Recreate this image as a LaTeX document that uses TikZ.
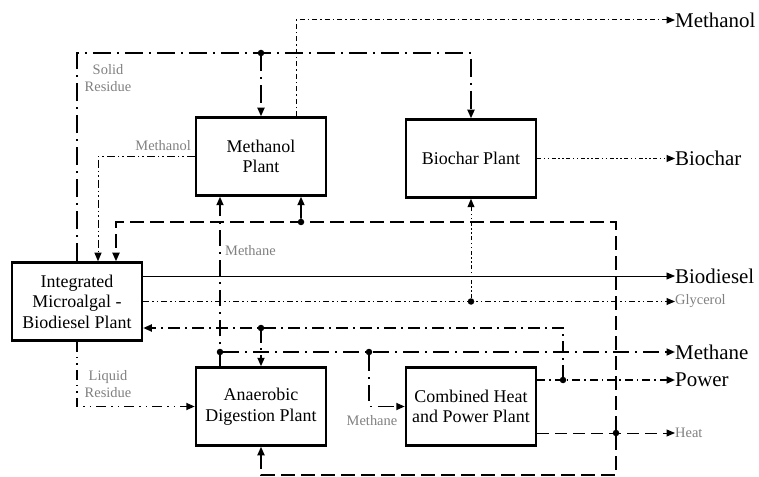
\documentclass[tikz,border=0pt]{standalone}
\usepackage{fontspec}
\setmainfont{Liberation Serif}
\usetikzlibrary{arrows.meta,positioning}

\begin{document}
\begin{tikzpicture}[
    x=1bp, y=-1bp,
    boxNode/.style={rectangle, draw, line width=2.5bp, minimum width=130bp, minimum height=78bp,
      align=center, inner sep=2bp, font=\fontsize{18}{20.5}\selectfont},
    outNode/.style={anchor=west, inner sep=0pt, xshift=8bp, font=\fontsize{21}{24}\selectfont},
    lblNode/.style={inner sep=0pt, align=center, text=gray, font=\fontsize{14.5}{17}\selectfont},
    smallOut/.style={anchor=west, inner sep=0pt, xshift=8bp, text=gray, font=\fontsize{14.5}{17}\selectfont},
    dotNode/.style={circle, fill, inner sep=0pt, minimum size=6.5bp},
    arrow/.style={->, >={Triangle[length=8.5bp, width=7bp]}},
    thinLine/.style={line width=1bp},
    thickLine/.style={line width=1.7bp},
    residueLine/.style={thickLine, dash pattern=on 18bp off 6bp on 2bp off 6bp},
    methOut/.style={thinLine, dash pattern=on 5bp off 3bp on 1.5bp off 3bp},
    recycleLine/.style={thinLine, dash pattern=on 8bp off 3bp on 1.5bp off 3bp on 1.5bp off 3bp},
    heatDist/.style={thickLine, dash pattern=on 14bp off 6bp},
    heatOut/.style={thinLine, dash pattern=on 12bp off 6bp},
    glyLine/.style={thinLine, dash pattern=on 6bp off 3bp on 1.5bp off 3bp on 1.5bp off 3bp},
    charLine/.style={thinLine, dash pattern=on 4bp off 2.5bp on 1.5bp off 2.5bp on 1.5bp off 2.5bp},
    powerLine/.style={thickLine, dash pattern=on 8bp off 4bp on 1.5bp off 4bp},
    powRec/.style={thickLine, dash pattern=on 12bp off 5bp on 2bp off 5bp},
    methaneLine/.style={thickLine, dash pattern=on 16bp off 6bp on 2bp off 6bp},
    liquidLine/.style={thickLine, dash pattern=on 10bp off 5bp on 1.5bp off 5bp on 1.5bp off 5bp}
  ]
  \useasboundingbox (0,0) rectangle (759,477);

  % Plants
  \node[boxNode] (imb) at (77,301.5) {Integrated\\Microalgal -\\Biodiesel Plant};
  \node[boxNode] (mp) at (261,156.5) {Methanol\\Plant};
  \node[boxNode] (bp) at (471,158.5) {Biochar Plant};
  \node[boxNode] (ad) at (261,406.5) {Anaerobic\\Digestion Plant};
  \node[boxNode] (chp) at (471,406.5) {Combined Heat\\and Power Plant};

  % Products
  \node[outNode] (oMeth) at (667,20) {Methanol};
  \node[outNode] (oChar) at (667,158.5) {Biochar};
  \node[outNode] (oDiesel) at (667,276) {Biodiesel};
  \node[smallOut] (oGly) at (667,301.5) {Glycerol};
  \node[outNode] (oMethane) at (667,352) {Methane};
  \node[outNode] (oPower) at (667,380) {Power};
  \node[smallOut] (oHeat) at (667,433) {Heat};

  % Junctions
  \coordinate (cMeth) at (296,20);
  \coordinate (jSolid) at (261,53);
  \coordinate (cTop) at (616,222);
  \coordinate (cBot) at (616,475);
  \coordinate (cPow) at (563,328);
  \node[dotNode] (jHeat) at (616,433) {};
  \node[dotNode] (jMp) at (301,222) {};
  \node[dotNode] (jGly) at (471,301.5) {};
  \node[dotNode] (jPow) at (563,380) {};
  \node[dotNode] (jAd) at (261,328) {};
  \node[dotNode] (jMethane) at (220,352) {};
  \node[dotNode] (jChp) at (369,352) {};
  \node[dotNode] at (jSolid) {};

  % Arrows
  \draw[arrow, methOut] (mp.north -| cMeth) |- (oMeth.west);
  \draw[arrow, residueLine] (imb.north) |- (jSolid) -| (bp.north);
  \draw[arrow, residueLine] (jSolid) -- (mp.north);
  \draw[arrow, recycleLine] (mp.west) -| ([xshift=21bp]imb.north);
  \draw[arrow, heatOut] (chp.east |- jHeat) -- (oHeat.west);
  \draw[arrow, heatDist] (jHeat) -- (cBot) -| (ad.south);
  \draw[arrow, heatDist] (jHeat) -- (cTop) -| ([xshift=39bp]imb.north);
  \draw[arrow, heatDist] (jMp) -- ([xshift=40bp]mp.south);
  \draw[arrow, line width=0.8bp] (imb.east |- oDiesel.west) -- (oDiesel.west);
  \draw[arrow, glyLine] (imb.east) -- (oGly.west);
  \draw[arrow, charLine] (jGly) -- (bp.south);
  \draw[arrow, charLine] (bp.east) -- (oChar.west);
  \draw[arrow, powerLine] (chp.east |- jPow) -- (oPower.west);
  \draw[arrow, powRec] (jPow) -- (cPow) -- (imb.east |- cPow);
  \draw[arrow, powRec] (jAd) -- (ad.north);
  \draw[arrow, methaneLine] ([xshift=-41bp]ad.north) -- ([xshift=-41bp]mp.south);
  \draw[arrow, methaneLine] (jMethane) -- (oMethane.west);
  \draw[arrow, methaneLine] (jChp) |- (chp.west);
  \draw[arrow, liquidLine] (imb.south) |- (ad.west);

  % Stream labels
  \node[lblNode] (lSolid) at (108,78) {Solid\\Residue};
  \node[lblNode, anchor=south east] (lMeth) at (191,151) {Methanol};
  \node[lblNode, anchor=west] (lMethane) at (225,251) {Methane};
  \node[lblNode] (lMethChp) at (372,421) {Methane};
  \node[lblNode] (lLiquid) at (108,384) {Liquid\\Residue};

\end{tikzpicture}
\end{document}
